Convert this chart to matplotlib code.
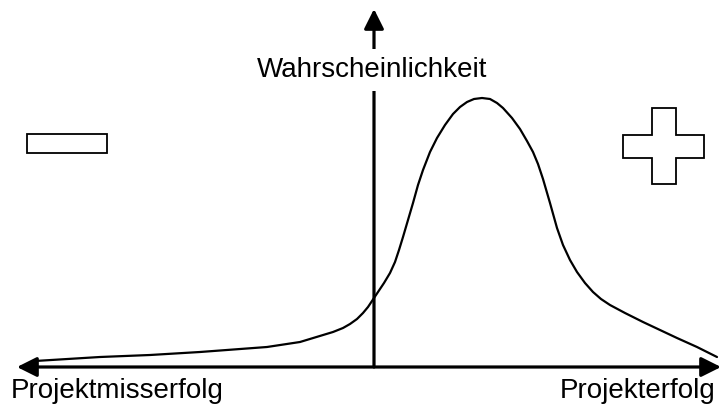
"""
plot.py

Sketch of the probability of project success: a skewed bell curve over an
outcome axis running from project failure (left) to project success (right).
"""

import matplotlib.pyplot as plt
from matplotlib.patches import Polygon, Rectangle

# Outcome axis position (x) and probability (y) of the curve
outcome = [
    -339, -274, -224, -174, -107, -74, -41, -31, -24, -17, -11, -6, -2, 4, 10,
    16, 21, 25, 29, 34, 39, 44, 49, 56, 63, 71, 79, 86, 93, 100, 108, 116, 123,
    129, 138, 146, 153, 159, 164, 169, 176, 183, 189, 196, 203, 211, 219, 227,
    236, 251, 269, 286, 303, 323, 343,
]
probability = [
    6, 10, 12, 15, 20, 25, 35, 39, 43, 48, 54, 60, 66, 75, 84,
    94, 105, 117, 130, 147, 164, 182, 197, 215, 229, 242, 253, 260, 265, 268, 269, 268, 264,
    259, 249, 238, 226, 215, 203, 188, 164, 139, 122, 107, 95, 84, 75, 68,
    62, 54, 45, 37, 29, 20, 10,
]

# Minus sign (left) and plus sign (right) outlines
minus_box = (-347, 214, 80, 19)  # x, y, width, height
plus_x = [-22, 2, 2, 30, 30, 2, 2, -22, -22, -51, -51, -22]
plus_y = [259, 259, 232, 232, 209, 209, 183, 183, 209, 209, 232, 232]
plus_center = 300

label_left = "Projektmisserfolg"
label_right = "Projekterfolg"
label_y = "Wahrscheinlichkeit"


def main():
    fig = plt.figure(figsize=(7.21, 4.09), dpi=100)
    ax = fig.add_axes([0, 0, 1, 1])
    ax.set_xlim(-374, 347)
    ax.set_ylim(-42, 367)
    ax.axis("off")

    font = dict(family="Liberation Sans", fontsize=20, color="black")

    # Horizontal double arrow
    ax.annotate(
        "", xy=(-357, 0), xytext=(347, 0),
        arrowprops=dict(arrowstyle="<|-|>,head_length=0.6,head_width=0.3",
                        mutation_scale=20, lw=2.3, color="black",
                        shrinkA=0, shrinkB=0),
    )
    # Vertical arrow
    ax.annotate(
        "", xy=(0, 358), xytext=(0, 0),
        arrowprops=dict(arrowstyle="-|>,head_length=0.6,head_width=0.3",
                        mutation_scale=20, lw=2.3, color="black",
                        shrinkA=0, shrinkB=0),
    )

    ax.text(-2, 297, label_y, ha="center", va="center", zorder=5,
            bbox=dict(facecolor="white", edgecolor="none", pad=6), **font)

    # Curve
    ax.plot(outcome, probability, color="black", lw=1.6,
            solid_joinstyle="round", solid_capstyle="round", zorder=4)

    # Minus and plus symbols
    x0, y0, w, h = minus_box
    ax.add_patch(Rectangle((x0, y0), w, h, facecolor="white",
                           edgecolor="black", lw=1.3))
    ax.add_patch(Polygon(list(zip([plus_center + v for v in plus_x], plus_y)),
                         closed=True, facecolor="white", edgecolor="black", lw=1.3))

    # Axis end labels
    ax.text(-363, -31, label_left, ha="left", va="baseline", **font)
    ax.text(342, -31, label_right, ha="right", va="baseline", **font)

    fig.savefig("out.png", dpi=100)


if __name__ == "__main__":
    main()
